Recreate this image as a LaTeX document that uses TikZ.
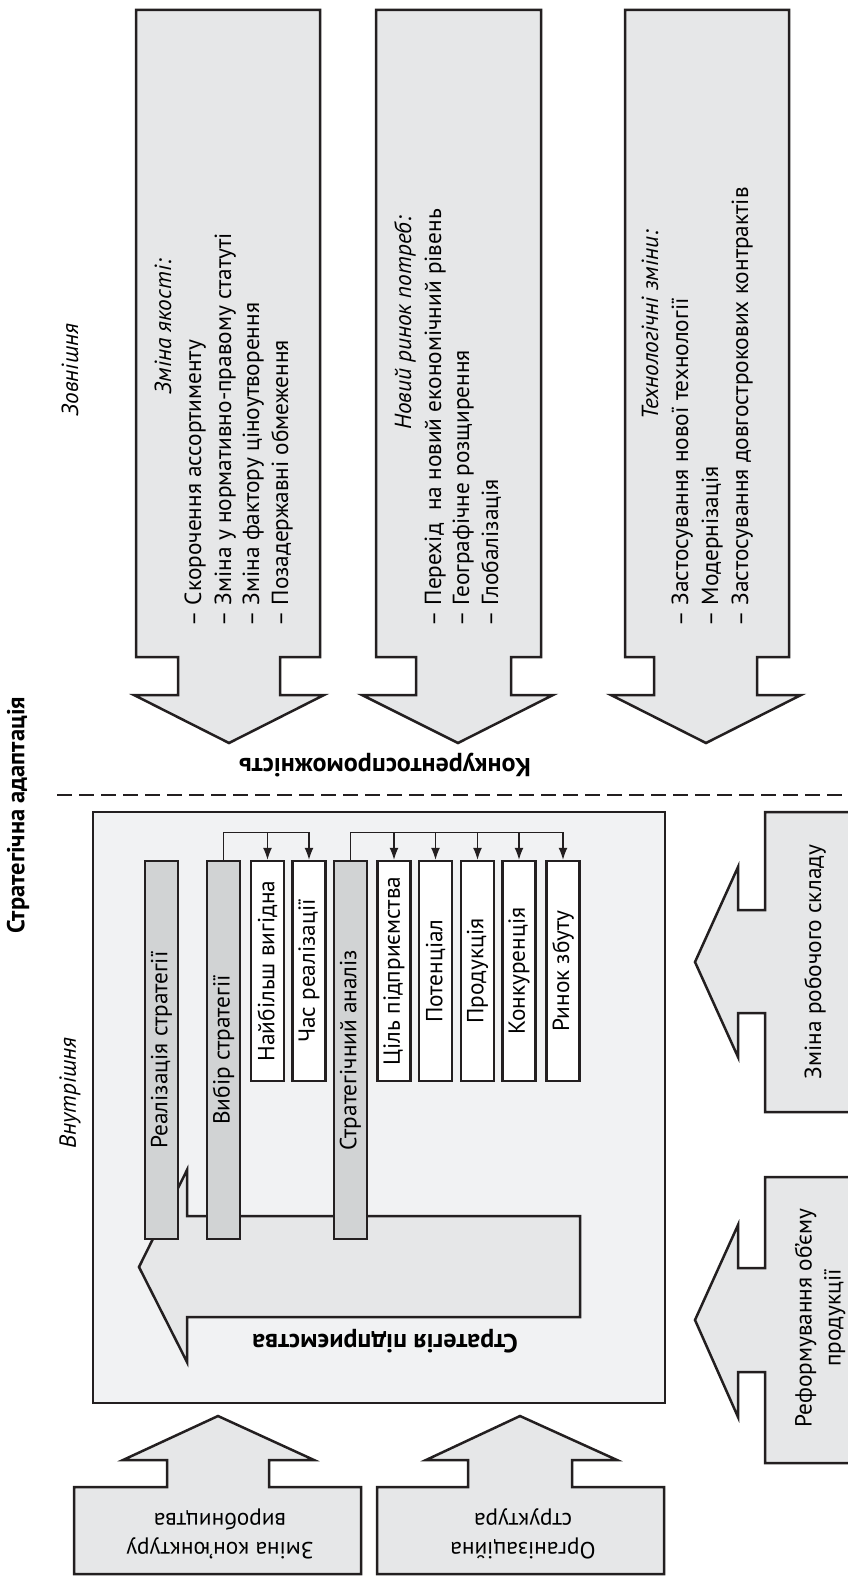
\documentclass[tikz,border=0pt]{standalone}
\usepackage{fontspec}
\setmainfont{PT Sans}
\usetikzlibrary{arrows.meta,calc,positioning}
\definecolor{inkc}{HTML}{231F20}
\definecolor{arrgray}{HTML}{E6E7E8}
\definecolor{framegray}{HTML}{F1F2F3}
\definecolor{colgray}{HTML}{D1D3D4}
\newcommand{\colwd}{33pt}
\newcommand{\txtfnt}{\fontsize{23.3}{29}\selectfont}
\newcommand{\boldfnt}{\fontsize{26}{29}\selectfont\bfseries}
\tikzset{
    arrsty/.style={draw=inkc,fill=arrgray,line width=2.5pt,line join=miter},
    framesty/.style={draw=inkc,fill=framegray,line width=2.5pt},
    gcolsty/.style={draw=inkc,fill=colgray,line width=2.4pt,rotate=90,minimum width=378pt,minimum height=\colwd,inner sep=0pt,font=\txtfnt},
    wcolsty/.style={gcolsty,fill=white,minimum width=220pt},
    linksty/.style={draw=inkc,line width=1.3pt,-{Latex[length=12pt,width=9pt]}},
    itemsty/.style={rotate=90,anchor=west,inner sep=0pt,text height=16.5pt,text depth=4.5pt,font=\txtfnt},
    headsty/.style={itemsty,anchor=center,font=\txtfnt\itshape},
    sidesty/.style={rotate=90,inner sep=0pt,font=\txtfnt\itshape},
    titlesty/.style={inner sep=0pt,font=\boldfnt},
    boxtxtsty/.style={inner sep=0pt,align=center,font=\txtfnt},
    sepsty/.style={draw=inkc,line width=2pt,dash pattern=on 15pt off 7pt},
}

\begin{document}
\begin{tikzpicture}[x=1pt,y=-1pt]
\useasboundingbox (0,0) rectangle (848,1576);

% external factors
\draw[arrsty] (136,10) -- (320,10) -- (320,657) -- (280,657) -- (280,695) -- (324,695) -- (229,743) -- (134,695) -- (178,695) -- (178,657) -- (136,657) -- cycle;
\draw[arrsty] (376,10) -- (541,10) -- (541,657) -- (511,657) -- (511,695) -- (553,695) -- (458,743) -- (362,695) -- (416,695) -- (416,657) -- (376,657) -- cycle;
\draw[arrsty] (625,10) -- (789,10) -- (789,657) -- (757,657) -- (757,695) -- (801,695) -- (706,743) -- (611,695) -- (654,695) -- (654,657) -- (625,657) -- cycle;

\node[headsty] (qlt) at (165,327) {Зміна якості:};
\node[itemsty] (qlt1) at (195,627) {– Скорочення ассортименту};
\node[itemsty] (qlt2) at (225,627) {– Зміна у нормативно-правому статуті};
\node[itemsty] (qlt3) at (253,627) {– Зміна фактору ціноутворення};
\node[itemsty] (qlt4) at (282,627) {– Позадержавні обмеження};

\node[headsty] (mkt) at (405,323) {Новий ринок потреб:};
\node[itemsty] (mkt1) at (435,627) {– Перехід~ на новий економічний рівень};
\node[itemsty] (mkt2) at (463,627) {– Географічне розщирення};
\node[itemsty] (mkt3) at (492,627) {– Глобалізація};

\node[headsty] (tech) at (652,325) {Технологічні зміни:};
\node[itemsty] (tech1) at (682,627) {– Застосування нової технології};
\node[itemsty] (tech2) at (712,627) {– Модернізація};
\node[itemsty] (tech3) at (742,627) {– Застосування довгострокових контрактів};

\node[titlesty,rotate=180] (compt) at (385,765) {Конкурентоспроможність};

% separator
\node[titlesty,rotate=90,font=\fontsize{24.5}{29}\selectfont\bfseries] (adapt) at (18,815) {Стратегічна адаптація};
\node[sidesty] (outer) at (70,370) {Зовнішня};
\node[sidesty] (inner) at (70,1093) {Внутрішня};
\coordinate (sepl) at (57,795);
\coordinate (sepr) at (848,795);
\draw[sepsty] (sepl) -- (sepr);

% enterprise
\draw[framesty] (93,812) rectangle (665,1403);
\draw[arrsty] (580,1216) -- (580,1317) -- (187,1317) -- (187,1362) -- (139,1267) -- (187,1170) -- (187,1216) -- cycle;
\node[titlesty,rotate=180] (strat) at (385,1341) {Стратегія підприємства};

\node[gcolsty] (real) at (161.5,1050) {Реалізація стратегії};
\node[gcolsty] (choice) at (223.5,1050) {Вибір стратегії};
\node[wcolsty] (best) at (267.5,971) {Найбільш вигідна};
\node[wcolsty] (time) at (309,971) {Час реалізації};
\node[gcolsty] (anls) at (350.5,1050) {Стратегічний аналіз};
\node[wcolsty] (goal) at (394,971) {Ціль підприємства};
\node[wcolsty] (potn) at (435.5,971) {Потенціал};
\node[wcolsty] (prod) at (477.5,971) {Продукція};
\node[wcolsty] (comp) at (519,971) {Конкуренція};
\node[wcolsty] (mrkt) at (563,971) {Ринок збуту};

\coordinate (chtop) at ([yshift=27pt]choice.east);
\draw[linksty] (choice.east) -- (chtop) -| (time.east);
\draw[linksty] (chtop -| best.east) -- (best.east);
\coordinate (antop) at ([yshift=27pt]anls.east);
\draw[linksty] (anls.east) -- (antop) -| (mrkt.east);
\draw[linksty] (antop -| goal.east) -- (goal.east);
\draw[linksty] (antop -| potn.east) -- (potn.east);
\draw[linksty] (antop -| prod.east) -- (prod.east);
\draw[linksty] (antop -| comp.east) -- (comp.east);

% internal factors
\draw[arrsty] (856,812) -- (765,812) -- (765,910) -- (738,910) -- (738,867) -- (695,962) -- (738,1057) -- (738,1013) -- (765,1013) -- (765,1112) -- (856,1112) -- cycle;
\node[boxtxtsty,rotate=90] (staff) at (815,962) {Зміна робочого складу};
\draw[arrsty] (856,1177) -- (765,1177) -- (765,1268) -- (738,1268) -- (738,1225) -- (695,1320) -- (738,1417) -- (738,1372) -- (765,1372) -- (765,1463) -- (856,1463) -- cycle;
\node[boxtxtsty,rotate=90] (volume) at (820,1318) {Реформування об’єму\\продукції};

\draw[arrsty] (74,1574) -- (74,1487) -- (167,1487) -- (167,1460) -- (123,1460) -- (218,1416) -- (314,1460) -- (269,1460) -- (269,1487) -- (361,1487) -- (361,1574) -- cycle;
\node[boxtxtsty,rotate=180] (conj) at (220,1534) {Зміна кон’юнктуру\\виробництва};
\draw[arrsty] (377,1574) -- (377,1487) -- (468,1487) -- (468,1460) -- (426,1460) -- (520,1416) -- (617,1460) -- (572,1460) -- (572,1487) -- (664,1487) -- (664,1574) -- cycle;
\node[boxtxtsty,rotate=180] (orgs) at (523,1534) {Організаційна\\структура};

\end{tikzpicture}
\end{document}
